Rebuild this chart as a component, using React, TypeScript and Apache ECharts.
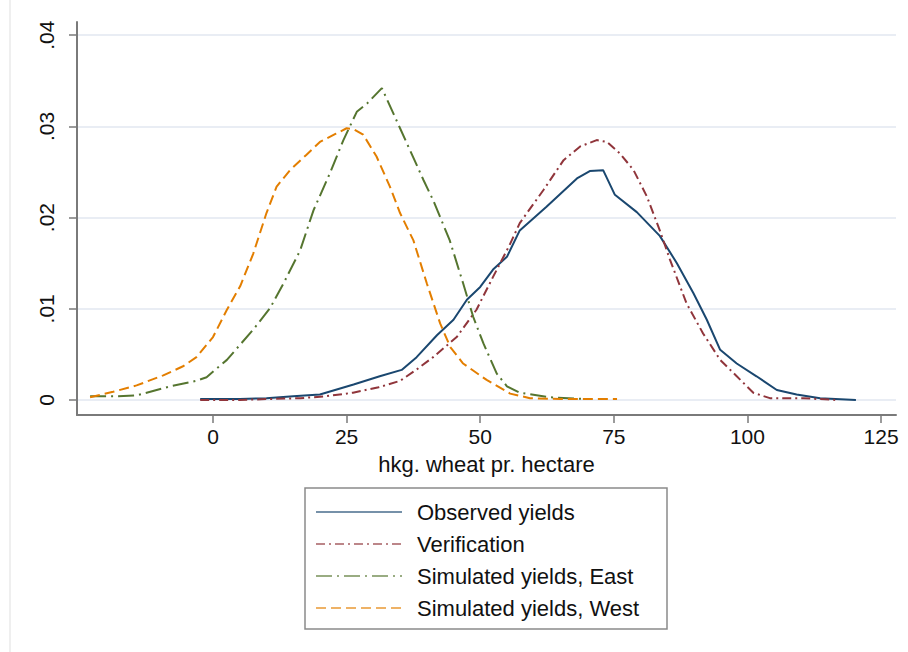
import React, { useEffect, useRef } from "react";
import * as echarts from "echarts";

// Kernel density estimates of wheat yields (hkg. per hectare)
const xTicks = [0, 25, 50, 75, 100, 125];
const yTicks = [0, 0.01, 0.02, 0.03, 0.04];

const seriesNames = [
  "Observed yields",
  "Verification",
  "Simulated yields, East",
  "Simulated yields, West",
];

const observedYields: [number, number][] = [
  [-2.4, 0.0001], [5, 0.0001], [10, 0.0002], [15, 0.0004], [20, 0.0006],
  [26.3, 0.0017], [31.2, 0.0026], [35.3, 0.0033], [38.1, 0.0047], [41.9, 0.0071],
  [45, 0.0088], [47.5, 0.011], [50, 0.0124], [52.4, 0.0143], [55, 0.0157],
  [57.4, 0.0186], [62.4, 0.0212], [68.1, 0.0243], [70.5, 0.0251], [73, 0.0252],
  [75.2, 0.0225], [79.3, 0.0206], [83.6, 0.018], [86.8, 0.015], [89.9, 0.0117],
  [92.4, 0.0088], [94.9, 0.0055], [98, 0.004], [101.7, 0.0026], [105.5, 0.0011],
  [109.2, 0.0006], [113.6, 0.0002], [120.3, 0.0],
];

const verification: [number, number][] = [
  [-2.4, 0.0], [5, 0.0], [10, 0.0001], [16.3, 0.0002], [21, 0.0004],
  [26.2, 0.0008], [31, 0.0014], [35, 0.0021], [38, 0.0033], [41.2, 0.0047],
  [45.6, 0.0069], [49.3, 0.0099], [52.4, 0.0135], [55.5, 0.017], [57.4, 0.0194],
  [61.8, 0.023], [65.6, 0.0263], [68.7, 0.0278], [71.8, 0.0285], [73.7, 0.0283],
  [76.2, 0.027], [78.7, 0.0252], [81.2, 0.0223], [83.6, 0.0186], [85.5, 0.0154],
  [88.6, 0.0106], [91.7, 0.0073], [94.9, 0.0044], [98, 0.0026], [101.1, 0.0008],
  [104.2, 0.0002], [110.4, 0.0002], [116.7, 0.0],
];

const simulatedEast: [number, number][] = [
  [-23, 0.0004], [-18.7, 0.0004], [-14.3, 0.0005], [-8, 0.0015], [-3.1, 0.0021],
  [-1.2, 0.0025], [2.6, 0.0044], [7.5, 0.0077], [10.7, 0.0101], [13.2, 0.0128],
  [16.3, 0.0164], [18.8, 0.0208], [21.9, 0.0249], [24.4, 0.0285], [26.9, 0.0316],
  [28.8, 0.0325], [31.6, 0.0342], [35, 0.0298], [39.4, 0.0241], [41.2, 0.0219],
  [44.3, 0.0175], [46.8, 0.0128], [48.7, 0.0091], [50.6, 0.0062], [53.1, 0.0029],
  [55, 0.0015], [57.4, 0.0008], [63.1, 0.0003], [70, 0.0001],
];

const simulatedWest: [number, number][] = [
  [-23, 0.0003], [-18.7, 0.0009], [-14.3, 0.0016], [-9.3, 0.0027], [-5.6, 0.0037],
  [-3.1, 0.0047], [0, 0.0069], [2.6, 0.0099], [5.1, 0.0125], [7.5, 0.016],
  [10, 0.0205], [11.9, 0.0234], [14.4, 0.0252], [17.5, 0.0269], [20, 0.0283],
  [23, 0.0292], [25, 0.0298], [26.3, 0.0297], [28.1, 0.0291], [30.6, 0.0267],
  [33.1, 0.0234], [35, 0.0205], [37.5, 0.0175], [40, 0.0128], [42.5, 0.0084],
  [44.4, 0.0058], [46.8, 0.004], [51.2, 0.0022], [55.6, 0.0007], [59.3, 0.0002],
  [65, 0.0001], [75.6, 0.0001],
];

const FONT = "'Liberation Sans', Arial, Helvetica, sans-serif";
const AXIS_GRAY = "#7a7a7a";
const GRID_COLOR = "#e2e7f0";

export default function App() {
  const ref = useRef<HTMLDivElement>(null);

  useEffect(() => {
    if (!ref.current) return;
    const chart = echarts.init(ref.current, null, { renderer: "svg" });

    const mk = (
      name: string,
      data: [number, number][],
      color: string,
      dash: number[] | "solid"
    ) => ({
      name,
      type: "line",
      data,
      symbol: "none",
      showSymbol: false,
      z: 3,
      itemStyle: { color },
      lineStyle: { color, width: 2, type: dash },
    });

    chart.setOption({
      animation: false,
      backgroundColor: "#ffffff",
      grid: { left: 77, right: 12, top: 22, bottom: 237, containLabel: false },
      xAxis: {
        type: "value",
        min: -25.45,
        max: 127.8,
        name: "hkg. wheat pr. hectare",
        nameLocation: "middle",
        nameGap: 38,
        nameTextStyle: { fontFamily: FONT, fontSize: 22, color: "#111" },
        axisLine: { show: true, onZero: false, lineStyle: { color: AXIS_GRAY, width: 2 } },
        axisTick: {
          show: true,
          length: 8,
          customValues: xTicks,
          lineStyle: { color: AXIS_GRAY, width: 1.5 },
        },
        axisLabel: {
          customValues: xTicks,
          margin: 11,
          fontFamily: FONT,
          fontSize: 21,
          color: "#111",
          showMinLabel: true,
          showMaxLabel: true,
        },
        splitLine: { show: false },
      },
      yAxis: {
        type: "value",
        min: -0.001645,
        max: 0.04145,
        axisLine: { show: true, onZero: false, lineStyle: { color: AXIS_GRAY, width: 2 } },
        axisTick: {
          show: true,
          length: 8,
          customValues: yTicks,
          lineStyle: { color: AXIS_GRAY, width: 1.5 },
        },
        axisLabel: {
          customValues: yTicks,
          rotate: 90,
          margin: 20,
          fontFamily: FONT,
          fontSize: 21,
          color: "#111",
          formatter: (v: number) => (v === 0 ? "0" : String(v).replace(/^0/, "")),
        },
        splitLine: { show: true, lineStyle: { color: GRID_COLOR, width: 1.5 } },
      },
      legend: {
        orient: "vertical",
        left: 315,
        top: 501,
        padding: 0,
        itemWidth: 86,
        itemHeight: 14,
        itemGap: 10,
        selectedMode: false,
        data: seriesNames,
        itemStyle: { opacity: 0 },
        lineStyle: { opacity: 0.6 },
        textStyle: {
          fontFamily: FONT,
          fontSize: 22,
          lineHeight: 22,
          color: "#111",
          padding: [0, 0, 0, 10],
        },
      },
      graphic: [
        {
          type: "line",
          shape: { x1: 10, y1: 0, x2: 10, y2: 652 },
          style: { stroke: "#efefef", lineWidth: 2 },
          silent: true,
        },
        {
          type: "rect",
          shape: { x: 305, y: 488, width: 362, height: 141 },
          style: { fill: "none", stroke: "#8a8a8a", lineWidth: 1.5 },
          silent: true,
          z: -1,
        },
      ],
      series: [
        mk(seriesNames[0], observedYields, "#1a476f", "solid"),
        mk(seriesNames[1], verification, "#90353b", [9, 4, 2, 4]),
        mk(seriesNames[2], simulatedEast, "#55752f", [16, 5, 2, 5]),
        mk(seriesNames[3], simulatedWest, "#e37e00", [10, 5]),
      ],
    });

    return () => chart.dispose();
  }, []);

  return (
    <div
      ref={ref}
      style={{ position: "absolute", left: 0, top: 0, width: 908, height: 652, background: "#fff" }}
    />
  );
}
